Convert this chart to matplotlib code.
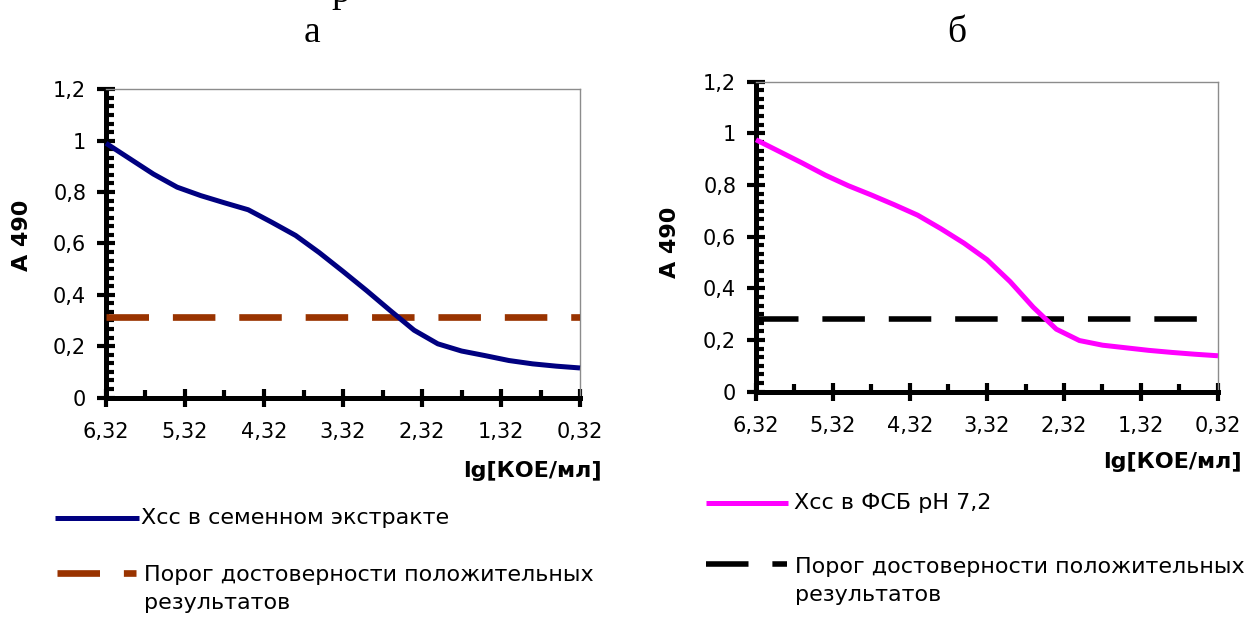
import matplotlib
matplotlib.use('Agg')
import matplotlib.pyplot as plt
from matplotlib.ticker import MultipleLocator, FuncFormatter
from matplotlib.lines import Line2D

plt.rcParams['font.family'] = ['DejaVu Sans']
plt.rcParams['lines.scale_dashes'] = False

# ---------------- data ----------------
lg_cfu = [6.32, 6.02, 5.72, 5.42, 5.12, 4.82, 4.52, 4.22, 3.92, 3.62, 3.32,
          3.02, 2.72, 2.42, 2.12, 1.82, 1.52, 1.22, 0.92, 0.62, 0.32]
a490_seed = [0.990, 0.930, 0.870, 0.819, 0.786, 0.758, 0.731, 0.682, 0.631,
             0.564, 0.491, 0.416, 0.338, 0.262, 0.209, 0.181, 0.163, 0.144,
             0.131, 0.122, 0.115]
a490_pbs = [0.975, 0.930, 0.885, 0.838, 0.797, 0.761, 0.723, 0.683, 0.631,
            0.575, 0.511, 0.426, 0.327, 0.242, 0.198, 0.180, 0.170, 0.160,
            0.152, 0.145, 0.139]
threshold_seed = 0.312
threshold_pbs = 0.281

x_ticks = [6.32, 5.32, 4.32, 3.32, 2.32, 1.32, 0.32]
y_ticks = [0, 0.2, 0.4, 0.6, 0.8, 1.0, 1.2]

label_seed = 'Хсс в семенном экстракте'
label_pbs = 'Хсс в ФСБ рН 7,2'
label_thr = 'Порог достоверности положительных\nрезультатов'
x_title = 'lg[КОЕ/мл]'
y_title = 'A 490'

# ---------------- figure ----------------
W, H = 1244, 617
fig = plt.figure(figsize=(W / 100, H / 100), dpi=100)


def fx(px):
    return px / W


def fy(py):
    return 1 - py / H


DASH = (30.6, 17.2)

ax1 = fig.add_axes([fx(106), fy(397.5), fx(580) - fx(106), fy(89.3) - fy(397.5)])
ax2 = fig.add_axes([fx(756), fy(391.7), fx(1218) - fx(756), fy(81.6) - fy(391.7)])

comma_x = FuncFormatter(lambda v, p: f"{v:.2f}".replace('.', ','))
comma_y = FuncFormatter(lambda v, p: f"{v:g}".replace('.', ','))


def style(ax, ylab_xy, xlab_xy):
    ax.set_xlim(x_ticks[0], x_ticks[-1])
    ax.set_ylim(y_ticks[0], y_ticks[-1])
    ax.set_xticks(x_ticks)
    ax.set_yticks(y_ticks)
    ax.xaxis.set_minor_locator(MultipleLocator(0.5, offset=0.32))
    ax.yaxis.set_minor_locator(MultipleLocator(0.2 / 6))
    ax.xaxis.set_major_formatter(comma_x)
    ax.yaxis.set_major_formatter(comma_y)
    for s in ('left', 'bottom'):
        ax.spines[s].set_linewidth(3.6)
        ax.spines[s].set_color('black')
    for s in ('top', 'right'):
        ax.spines[s].set_linewidth(1.0)
        ax.spines[s].set_color('#8c8c8c')
    ax.tick_params(which='major', direction='inout', length=13.5, width=3,
                   labelsize=15, colors='black')
    ax.tick_params(axis='x', which='major', pad=11)
    ax.tick_params(axis='y', which='major', pad=7.5)
    ax.tick_params(which='minor', direction='in', length=6, width=3)
    ax.set_ylabel(y_title, fontsize=16, fontweight='bold', va='center', ha='center')
    ax.yaxis.set_label_coords(*ylab_xy)
    ax.set_xlabel(x_title, fontsize=16, fontweight='bold', ha='right', va='center')
    ax.xaxis.set_label_coords(*xlab_xy)


style(ax1, (-0.177, 0.527), (1.046, -0.238))
style(ax2, (-0.186, 0.483), (1.052, -0.227))

ax1.plot(lg_cfu, a490_seed, color='#000080', lw=3.6, zorder=3, clip_on=False,
         solid_capstyle='butt')
ax1.axhline(threshold_seed, color='#993300', lw=4.8, linestyle=(0, DASH),
            zorder=2.8)

ax2.plot(lg_cfu, a490_pbs, color='#ff00ff', lw=3.6, zorder=3, clip_on=False,
         solid_capstyle='butt')
ax2.axhline(threshold_pbs, color='black', lw=4.0, linestyle=(0, DASH),
            zorder=2.8)

# ---------------- titles ----------------
fig.text(fx(312), fy(42), 'а', ha='center', va='baseline', fontsize=27,
         family='Liberation Serif')
fig.text(fx(957), fy(42), 'б', ha='center', va='baseline', fontsize=27,
         family='Liberation Serif')
# fragment of the caption line above, cut off by the top edge as in the source
fig.text(fx(341), fy(2), 'р', ha='center', va='baseline', fontsize=27,
         family='Liberation Serif')

# ---------------- legends ----------------
fig.add_artist(Line2D([fx(55), fx(139)], [fy(518), fy(518)], color='#000080',
                      lw=3.6, solid_capstyle='butt'))
fig.text(fx(141), fy(518), label_seed, va='center', ha='left', fontsize=16)
fig.add_artist(Line2D([fx(57), fx(136)], [fy(573), fy(573)], color='#993300',
                      lw=4.8, linestyle=(0, DASH)))
fig.text(fx(144), fy(589), label_thr, va='center', ha='left', fontsize=16,
         linespacing=1.45)

fig.add_artist(Line2D([fx(706), fx(788)], [fy(503), fy(503)], color='#ff00ff',
                      lw=3.6, solid_capstyle='butt'))
fig.text(fx(794), fy(503), label_pbs, va='center', ha='left', fontsize=16)
fig.add_artist(Line2D([fx(706), fx(787)], [fy(564), fy(564)], color='black',
                      lw=4.0, linestyle=(0, DASH)))
fig.text(fx(795), fy(581), label_thr, va='center', ha='left', fontsize=16,
         linespacing=1.53)

fig.savefig('out.png', dpi=100, facecolor='white')
